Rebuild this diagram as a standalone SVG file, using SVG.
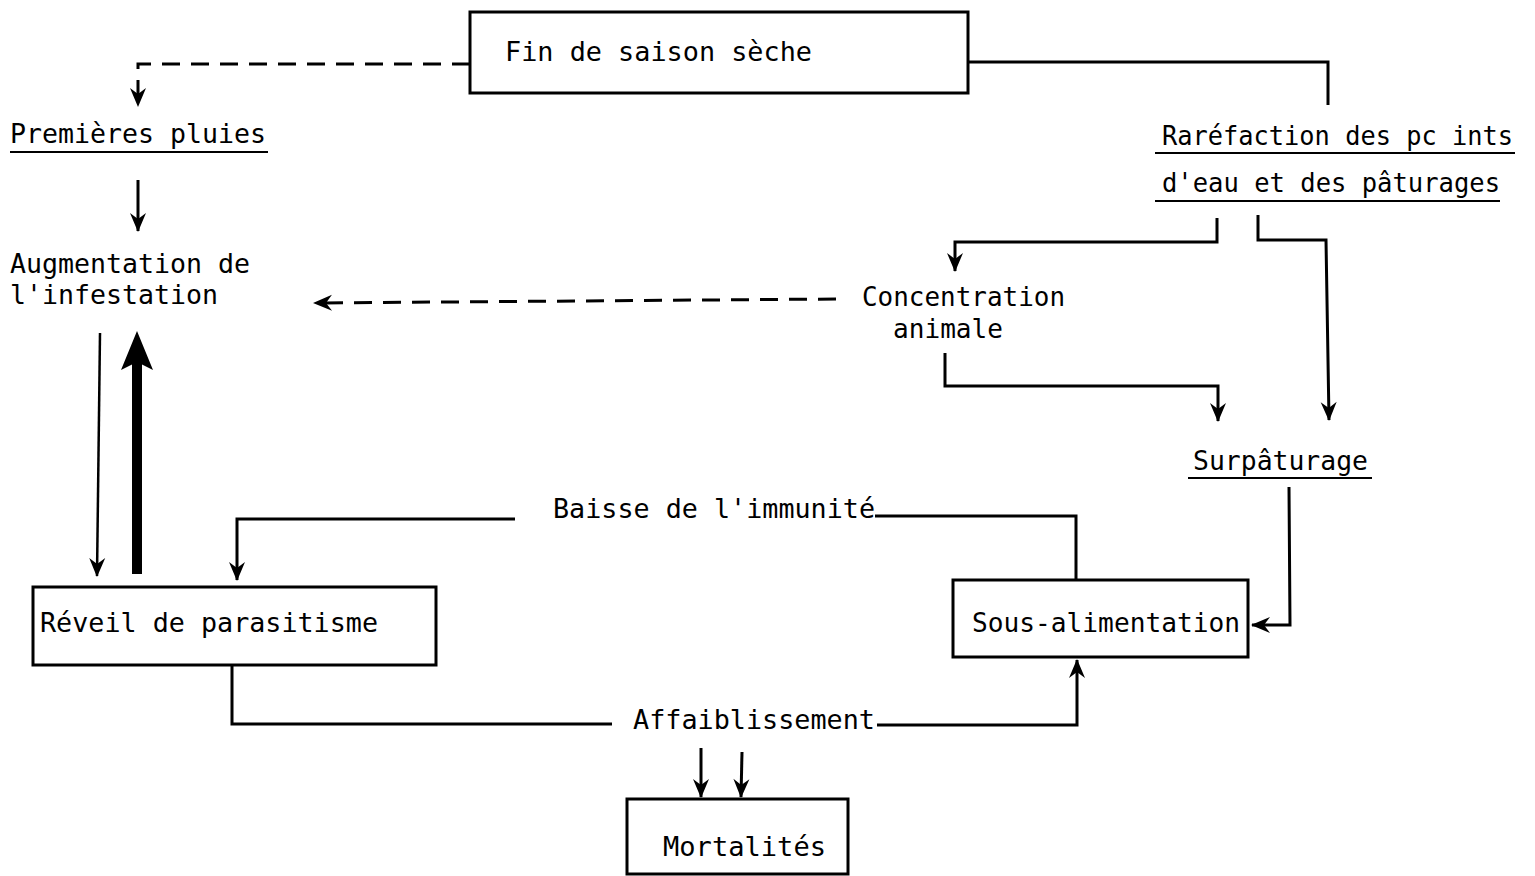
<svg xmlns="http://www.w3.org/2000/svg" width="1535" height="876" viewBox="0 0 1535 876">
<style>
text{font-family:"DejaVu Sans Mono","Liberation Mono",monospace;font-size:27px;fill:#000}
.box{fill:#fff;stroke:#000;stroke-width:3}
.ln{fill:none;stroke:#000;stroke-width:3;stroke-linejoin:miter}
.dash{fill:none;stroke:#000;stroke-width:3;stroke-dasharray:18 11}
.ul{stroke:#000;stroke-width:2}
</style>
<defs>
<marker id="ah" viewBox="-20 -10 22 20" refX="0" refY="0" markerWidth="22" markerHeight="20" markerUnits="userSpaceOnUse" orient="auto">
<path d="M1,0 L-18,-8 L-12,0 L-18,8 Z" fill="#000"/>
</marker>
</defs>
<rect width="1535" height="876" fill="#fff"/>

<g id="connectors">
<path class="dash" d="M470,64 H138 V106" marker-end="url(#ah)"/>
<path class="ln" d="M968,62 H1328 V105"/>
<path class="ln" d="M138,180 V231" marker-end="url(#ah)"/>
<path class="dash" d="M836,299 L314,303" marker-end="url(#ah)"/>
<path class="ln" d="M1217,218 V242 H955 V271" marker-end="url(#ah)"/>
<path class="ln" d="M1258,215 V240 H1326 L1329,420" marker-end="url(#ah)"/>
<path class="ln" d="M945,353 V386 H1218 V421" marker-end="url(#ah)"/>
<path class="ln" d="M1289,487 L1290,625 H1252" marker-end="url(#ah)"/>
<path class="ln" d="M1076,580 V516 H875"/>
<path class="ln" d="M515,519 H237 V580" marker-end="url(#ah)"/>
<path class="ln" d="M100,333 L97,576" marker-end="url(#ah)" style="stroke-width:2.5"/>
<path d="M137,574 V360" fill="none" stroke="#000" stroke-width="10"/>
<path d="M137,331 L153,370 L137,362 L121,370 Z" fill="#000"/>
<path class="ln" d="M232,665 V724 H612"/>
<path class="ln" d="M877,725 H1077 V660" marker-end="url(#ah)"/>
<path class="ln" d="M701,748 V797" marker-end="url(#ah)"/>
<path class="ln" d="M742,752 L741,797" marker-end="url(#ah)"/>
</g>

<g id="fin-saison">
<rect class="box" x="470" y="12" width="498" height="81"/>
<text x="505" y="61" textLength="307" lengthAdjust="spacingAndGlyphs">Fin de saison sèche</text>
</g>
<g id="premieres-pluies">
<text x="10" y="143" textLength="256" lengthAdjust="spacingAndGlyphs">Premières pluies</text>
<line class="ul" x1="10" y1="152" x2="268" y2="152"/>
</g>
<g id="augmentation">
<text x="10" y="273" textLength="240" lengthAdjust="spacingAndGlyphs">Augmentation de</text>
<text x="10" y="304" textLength="208" lengthAdjust="spacingAndGlyphs">l'infestation</text>
</g>
<g id="rarefaction">
<text x="1162" y="145" textLength="351" lengthAdjust="spacingAndGlyphs">Raréfaction des pc ints</text>
<line class="ul" x1="1155" y1="153" x2="1515" y2="153"/>
<text x="1162" y="192" textLength="338" lengthAdjust="spacingAndGlyphs">d'eau et des pâturages</text>
<line class="ul" x1="1155" y1="201" x2="1500" y2="201"/>
</g>
<g id="concentration">
<text x="862" y="306" textLength="203" lengthAdjust="spacingAndGlyphs">Concentration</text>
<text x="893" y="338" textLength="110" lengthAdjust="spacingAndGlyphs">animale</text>
</g>
<g id="surpaturage">
<text x="1193" y="470" textLength="175" lengthAdjust="spacingAndGlyphs">Surpâturage</text>
<line class="ul" x1="1188" y1="478" x2="1372" y2="478"/>
</g>
<g id="baisse-immunite">
<text x="553" y="518" textLength="322" lengthAdjust="spacingAndGlyphs">Baisse de l'immunité</text>
</g>
<g id="sous-alimentation">
<rect class="box" x="953" y="580" width="295" height="77"/>
<text x="972" y="632" textLength="268" lengthAdjust="spacingAndGlyphs">Sous-alimentation</text>
</g>
<g id="reveil">
<rect class="box" x="33" y="587" width="403" height="78"/>
<text x="40" y="632" textLength="338" lengthAdjust="spacingAndGlyphs">Réveil de parasitisme</text>
</g>
<g id="affaiblissement">
<text x="633" y="729" textLength="242" lengthAdjust="spacingAndGlyphs">Affaiblissement</text>
</g>
<g id="mortalites">
<rect class="box" x="627" y="799" width="221" height="75"/>
<text x="663" y="856" textLength="163" lengthAdjust="spacingAndGlyphs">Mortalités</text>
</g>
</svg>
